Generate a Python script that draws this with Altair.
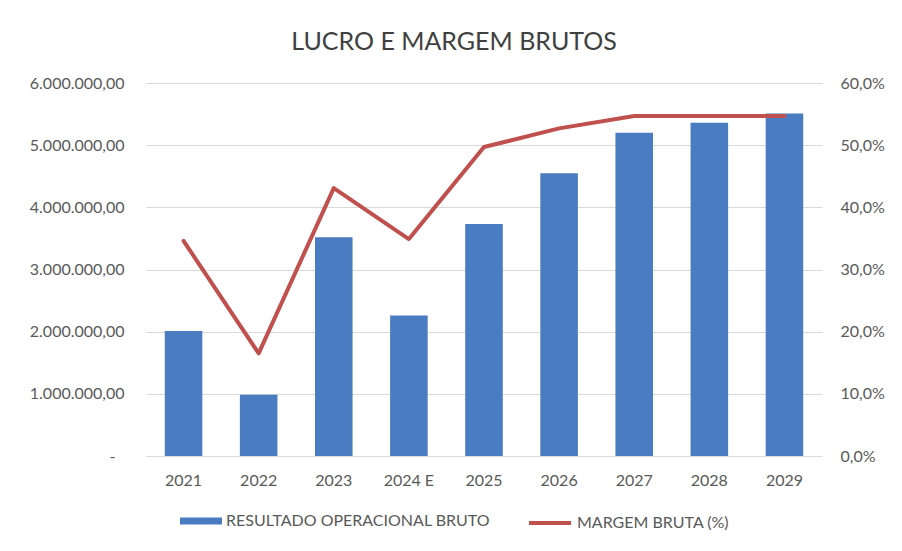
import altair as alt
import pandas as pd

years = ["2021", "2022", "2023", "2024 E", "2025", "2026", "2027", "2028", "2029"]
resultado = [2010000, 985000, 3520000, 2260000, 3730000, 4550000, 5200000, 5360000, 5510000]
margem = [0.346, 0.165, 0.431, 0.349, 0.497, 0.527, 0.547, 0.547, 0.547]
serie_barra = "RESULTADO OPERACIONAL BRUTO"
serie_linha = "MARGEM BRUTA (%)"

df = pd.DataFrame({
    "ano": years,
    "resultado": resultado,
    "margem": margem,
    "s_barra": [serie_barra] * len(years),
    "s_linha": [serie_linha] * len(years),
})

FONT = "Lato"
GRAY = "#595959"
BLUE = "#4A7CC1"
RED = "#C0504D"

x = alt.X("ano:N", sort=years, title=None,
          scale=alt.Scale(paddingInner=0.5, paddingOuter=0.25),
          axis=alt.Axis(labelAngle=0, labelFont=FONT, labelFontSize=16, labelColor=GRAY,
                        ticks=False, grid=False, domainColor="#D9D9D9", domainWidth=1,
                        labelPadding=16))

bars = alt.Chart(df).mark_bar(color=BLUE).encode(
    x=x,
    y=alt.Y("resultado:Q", title=None,
            scale=alt.Scale(domain=[0, 6000000], nice=False),
            axis=alt.Axis(values=[0, 1000000, 2000000, 3000000, 4000000, 5000000, 6000000],
                          format=",.2f",
                          labelExpr="datum.value == 0 ? '-' : datum.label",
                          labelFont=FONT, labelFontSize=16, labelColor=GRAY,
                          ticks=False, domain=False,
                          labelPadding={"condition": {"test": "datum.value == 0", "value": 31},
                                        "value": 22},
                          grid=True, gridColor="#D9D9D9", gridWidth=1)),
    fill=alt.Fill("s_barra:N", title=None,
                  scale=alt.Scale(domain=[serie_barra], range=[BLUE]),
                  legend=alt.Legend(orient="none", legendX=34, legendY=417,
                                    symbolType="M-1,-0.17L1,-0.17L1,0.17L-1,0.17Z",
                                    symbolSize=1764, symbolStrokeWidth=0,
                                    labelFont=FONT, labelFontSize=16, labelColor=GRAY,
                                    labelOffset=4, labelLimit=0)),
)

line = alt.Chart(df).mark_line(strokeWidth=4, strokeJoin="round", strokeCap="round").encode(
    x=x,
    y=alt.Y("margem:Q", title=None,
            scale=alt.Scale(domain=[0, 0.6], nice=False),
            axis=alt.Axis(orient="right", values=[0, 0.1, 0.2, 0.3, 0.4, 0.5, 0.6],
                          format=".1%", labelFont=FONT, labelFontSize=16, labelColor=GRAY,
                          ticks=False, domain=False, grid=False, labelPadding=18)),
    stroke=alt.Stroke("s_linha:N", title=None,
                      scale=alt.Scale(domain=[serie_linha], range=[RED]),
                      legend=alt.Legend(orient="none", legendX=381, legendY=417,
                                        symbolType="stroke", symbolSize=1764,
                                        symbolStrokeWidth=4,
                                        labelFont=FONT, labelFontSize=16, labelColor=GRAY,
                                        labelOffset=4, labelLimit=0)),
)

chart = alt.layer(bars, line).resolve_scale(
    y="independent", fill="independent", stroke="independent"
).properties(
    width=676,
    height=373,
    padding={"left": 138, "top": 75, "right": 72, "bottom": 87},
    autosize=alt.AutoSizeParams(type="none"),
    title=alt.TitleParams("LUCRO E MARGEM BRUTOS", font=FONT, fontSize=25, fontWeight="normal",
                          color="#404040", anchor="middle", dx=-30, offset=20),
).configure(
    view=alt.ViewConfig(stroke="transparent", strokeWidth=0),
    locale={"number": {"decimal": ",", "thousands": ".", "grouping": [3], "currency": ["R$", ""]}},
)

chart.save("out.html", embed_options={"renderer": "svg", "actions": False})
